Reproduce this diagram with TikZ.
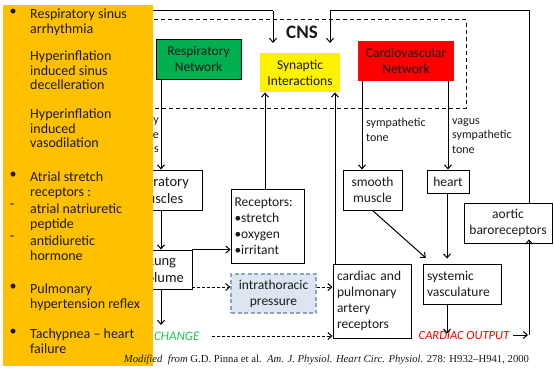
\documentclass[tikz,border=0pt]{standalone}
\usepackage{fontspec}
\setmainfont{Carlito}
\newfontfamily\capfont{Liberation Serif}
\usetikzlibrary{arrows.meta}
\definecolor{orng}{HTML}{FFC000}
\definecolor{grn}{HTML}{00B050}
\definecolor{txt}{HTML}{1A1A1A}
\definecolor{intrafill}{HTML}{DCE6F2}
\definecolor{intradraw}{HTML}{8FA3C2}
\definecolor{chg}{HTML}{22C25A}
\begin{document}
\begin{tikzpicture}[x=1pt,y=-1pt,
  box/.style={draw=black, line width=0.9pt, inner sep=0pt, text=txt, align=center,
              font=\fontsize{13.5}{16}\selectfont},
  lbl/.style={inner sep=0pt, text=txt, align=left, font=\fontsize{12}{14.5}\selectfont},
  arr/.style={-{Straight Barb[length=4pt,width=7pt]}, line width=1pt},
  darr/.style={arr, dash pattern=on 3pt off 2pt},
  ortext/.style={inner sep=0pt, anchor=north west, align=left, text=txt, font=\fontsize{14}{14.2}\selectfont},
  bul/.style={inner sep=0pt, anchor=north, text=txt, font=\fontsize{14}{14.2}\selectfont}]
\useasboundingbox (0,0) rectangle (554,369);
\fill[white] (0,0) rectangle (554,369);

% CNS region
\draw[line width=1pt, dash pattern=on 4pt off 3pt] (140,20) -- (466,20) -- (466,108) -- (140,108);
\node[font=\fontsize{19}{20}\selectfont\bfseries, text=txt] (cns) at (302,32) {CNS};

% boxes
\node[box, fill=grn, minimum width=85pt, minimum height=40pt] (resp) at (198.5,59) {Respiratory\\Network};
\node[box, draw=none, fill=yellow, minimum width=80pt, minimum height=39pt] (syn) at (300,72.5) {Synaptic\\Interactions};
\node[box, draw=none, fill=red, minimum width=96pt, minimum height=40pt] (cardio) at (406,61) {Cardiovascular\\Network};
\node[box, minimum width=84pt, minimum height=40pt] (resmus) at (160,190) {};
\node[inner sep=0pt, text=txt, align=center, font=\fontsize{14.5}{16.5}\selectfont] (resmustext) at (155.4,190)
  {Respiratory\\\hspace*{8.6pt}muscles};
\node[box, minimum width=62pt, minimum height=39pt] (lung) at (161,269.5) {};
\node[inner sep=0pt, text=txt, align=center, font=\fontsize{14.5}{16.5}\selectfont] (lungtext) at (162,269.5)
  {Lung\\volume};
\node[box, minimum width=73pt, minimum height=74pt, align=left, text width=66pt] (rec) at (267.5,226)
  {Receptors:\\\textbullet stretch\\\textbullet oxygen\\\textbullet irritant};
\node[box, draw=intradraw, fill=intrafill, line width=1.3pt, dash pattern=on 4pt off 2.5pt,
      minimum width=85pt, minimum height=39pt] (intra) at (273.5,293.5) {intrathoracic\\pressure};
\node[box, minimum width=78pt, minimum height=74pt, align=left, text width=70pt] (cpr) at (372,301)
  {cardiac and\\pulmonary\\artery\\receptors};
\node[box, minimum width=59pt, minimum height=40pt] (smooth) at (372.5,190) {smooth\\muscle};
\node[box, minimum width=42pt, minimum height=23pt] (heart) at (448,181.5) {heart};
\node[box, minimum width=78pt, minimum height=40pt, align=left, text width=70pt] (sysv) at (462,284)
  {systemic\\vasculature};
\node[box, minimum width=88pt, minimum height=40pt] (aortic) at (508,223) {aortic\\baroreceptors};

\node[inner sep=0pt, text=red, font=\fontsize{12.5}{14}\selectfont\itshape] (co) at (464,335) {CARDIAC OUTPUT};
\node[inner sep=0pt, anchor=west, text=chg, font=\fontsize{13}{14}\selectfont\itshape] (change) at (154,336) {CHANGE};

% labels
\node[lbl, anchor=north east, align=right] (frag) at (159,118) {y\\e\\s};
\node[lbl, anchor=north west] (symp) at (366,118) {sympathetic\\tone};
\node[lbl, anchor=north west] (vagus) at (452,118) {vagus\\sympathetic\\tone};

% helper coordinates
\coordinate (colx) at (161,0);
\coordinate (dy) at (0,287);
\coordinate (ltop) at (273,11);
\coordinate (rtop) at (330,11);
\coordinate (rcor) at (529,11);
\coordinate (lstart) at (100,11);
\coordinate (cnsin) at (0,43);
\coordinate (chgend) at (161,325);
\coordinate (cocor) at (529,335);

% connectors
\draw[arr] (resp.south -| colx) -- (resmus.north -| colx);
\draw[arr] (resmus.south -| colx) -- (lung.north -| colx);
\draw[arr] (lung.south -| colx) -- (chgend);
\draw[arr] (lung.north east) -- (rec.west |- lung.north east);
\draw[darr] (lung.east |- dy) -- (intra.west |- dy);
\draw[darr] (intra.east |- dy) -- (cpr.west |- dy);
\draw[darr] ([xshift=12pt]change.east) -- (cpr.west |- change.east);
\draw[arr] (rec.north -| 265,0) -- (syn.south -| 265,0);
\draw[arr] (cpr.north -| 335,0) -- (syn.south -| 335,0);
\draw[arr] (cardio.south -| 362,0) -- (smooth.north -| 362,0);
\draw[arr] (cardio.south -| heart.north) -- (heart.north);
\draw[arr, shorten >=1pt] (smooth.south) -- ([xshift=4pt,yshift=5pt]sysv.north west);
\draw[arr, shorten >=5pt] (heart.south -| 447,0) -- (sysv.north -| 447,0);
\draw[arr] (sysv.south -| 447,0) -- ([yshift=-3pt]co.north -| 447,0);
\draw[arr] ([xshift=4pt]co.east) -- ([xshift=-1pt]cocor);
\draw[arr] (cocor) -- ([yshift=4pt]aortic.south -| cocor);
\draw[line width=1pt] (aortic.north -| rcor) -- (rcor) -- (rtop);
\draw[arr] (rtop) -- (rtop |- cnsin);
\draw[line width=1pt] (lstart) -- (ltop);
\draw[arr] (ltop) -- (ltop |- cnsin);

% orange panel
\fill[orng] (3,5) rectangle (153,366);
\node[bul] (b1) at (13,9) {\textbullet};
\node[ortext] (t1) at (30,9) {Respiratory sinus\\arrhythmia};
\node[ortext] (t2) at (30,51) {Hyperinflation\\induced sinus\\decelleration};
\node[ortext] (t3) at (30,109) {Hyperinflation\\induced\\vasodilation};
\node[bul] (b4) at (13,172) {\textbullet};
\node[ortext] (t4) at (30,172) {Atrial stretch\\receptors :};
\node[bul] (d5) at (12,204) {-};
\node[ortext] (t5) at (30,204) {atrial natriuretic\\peptide};
\node[bul] (d6) at (12,236) {-};
\node[ortext] (t6) at (30,236) {antidiuretic\\hormone};
\node[bul] (b7) at (13,284) {\textbullet};
\node[ortext] (t7) at (30,284) {Pulmonary\\hypertension reflex};
\node[bul] (b8) at (13,329) {\textbullet};
\node[ortext] (t8) at (30,329) {Tachypnea – heart\\failure};

% caption
\node[inner sep=0pt, text=txt, font=\capfont\fontsize{10.7}{12}\selectfont] (cap) at (326.5,360)
  {\textit{Modified}\ \ \textit{from} G.D. Pinna et al.\ \ \textit{Am. J. Physiol. Heart Circ. Physiol.} 278: H932–H941, 2000};
\end{tikzpicture}
\end{document}
